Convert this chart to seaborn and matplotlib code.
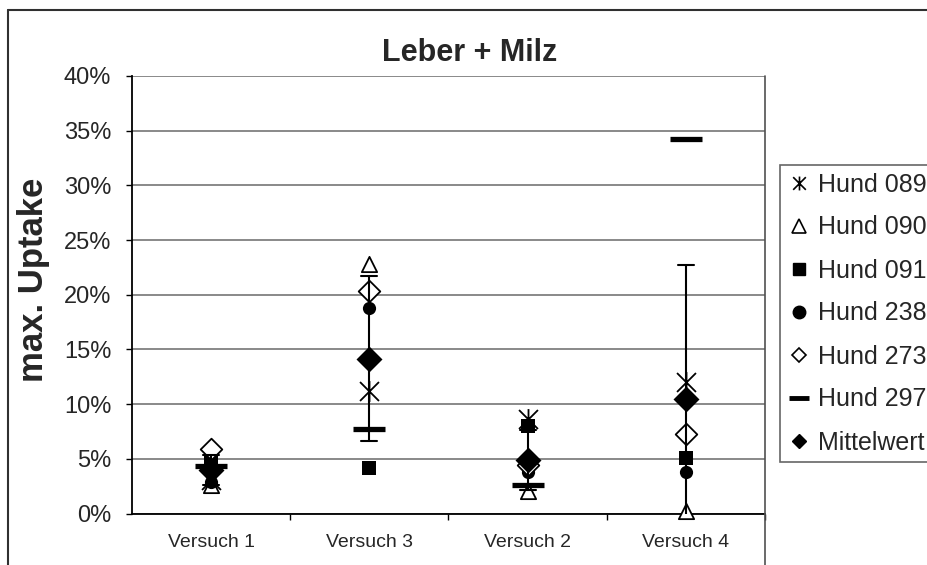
import numpy as np
import pandas as pd
import seaborn as sns
import matplotlib.pyplot as plt
from matplotlib.path import Path
from matplotlib.lines import Line2D

# max. uptake in percent
versuche = ['Versuch 1', 'Versuch 3', 'Versuch 2', 'Versuch 4']
hund_089 = [3.1, 11.2, 8.6, 12.0]
hund_090 = [2.6, 22.8, 2.1, 0.2]
hund_091 = [5.2, 4.2, 8.0, 5.1]
hund_238 = [2.9, 18.8, 3.8, 3.8]
hund_273 = [5.9, 20.3, 4.4, 7.3]
hund_297 = [4.3, 7.7, 2.6, 34.2]
yticks = [0, 5, 10, 15, 20, 25, 30, 35, 40]

sns.set_theme(style='white')
plt.rcParams['font.family'] = ['Liberation Sans', 'DejaVu Sans']

# excel style "star" marker: X with a vertical bar
star = Path([(-1, -1), (1, 1), (-1, 1), (1, -1), (0, -1.1), (0, 1.1)],
            [Path.MOVETO, Path.LINETO, Path.MOVETO, Path.LINETO, Path.MOVETO, Path.LINETO])

hunde = {
    'Hund 089': (hund_089, dict(marker=star, size=15, color='black', edgecolor='black', linewidth=1.3)),
    'Hund 090': (hund_090, dict(marker='^', size=11, color='white', edgecolor='black', linewidth=1.3)),
    'Hund 091': (hund_091, dict(marker='s', size=9.5, color='black', edgecolor='black', linewidth=0)),
    'Hund 238': (hund_238, dict(marker='o', size=9.5, color='black', edgecolor='black', linewidth=0)),
    'Hund 273': (hund_273, dict(marker='D', size=11, color='white', edgecolor='black', linewidth=1.3)),
    'Hund 297': (hund_297, dict(marker='_', size=23, color='black', linewidth=3.8)),
}

df = pd.DataFrame({'versuch': versuche})
for name, (vals, kw) in hunde.items():
    df[name] = vals
long = df.melt(id_vars='versuch', var_name='hund', value_name='uptake')

fig = plt.figure(figsize=(9.28, 5.65), dpi=100)
ax = fig.add_axes([132/928, 1 - 513.5/565, (765 - 132)/928, (513.5 - 76)/565])

for name, (vals, kw) in hunde.items():
    sns.stripplot(x=versuche, y=vals, order=versuche, jitter=False, ax=ax, zorder=3,
                  clip_on=False, **kw)

# Mittelwert with standard deviation
sns.pointplot(data=long, x='versuch', y='uptake', order=versuche, estimator='mean',
              errorbar='sd', color='black', markers='D', linestyle='none', markersize=11,
              capsize=0.1, err_kws={'linewidth': 1.5, 'zorder': 4}, zorder=5, ax=ax)

ax.set_xlim(-0.5, 3.5)
ax.set_ylim(0, 40)
ax.set_yticks(yticks)
ax.set_yticklabels([f'{t}%' for t in yticks])
ax.set_xticks(range(len(versuche)))
ax.set_xticklabels(versuche)
ax.set_xticks([0.5, 1.5, 2.5, 3.5], minor=True)
ax.tick_params(axis='x', which='major', length=0, pad=15, labelsize=14)
ax.tick_params(axis='x', which='minor', length=4, width=1, color='black', direction='out', bottom=True)
ax.tick_params(axis='y', length=4, width=1, color='black', direction='out', left=True, pad=11, labelsize=17)
ax.set_xlabel('')
ax.set_ylabel('max. Uptake', fontsize=25, fontweight='bold')
ax.yaxis.set_label_coords(-0.13, 0.535)
ax.set_title('Leber + Milz', fontsize=22, fontweight='bold', x=0.534, pad=11)

ax.grid(axis='y', color='#808080', linewidth=1.3)
ax.set_axisbelow(True)
for s in ['top', 'right']:
    ax.spines[s].set_visible(False)
for s in ['left', 'bottom']:
    ax.spines[s].set_color('black')
    ax.spines[s].set_linewidth(1.3)

# outer chart frame and right edge of plot area
fig.add_artist(Line2D([8/928, 8/928], [0, 1 - 10/565], transform=fig.transFigure, color='#303030', lw=1.5))
fig.add_artist(Line2D([8/928, 1], [1 - 10/565, 1 - 10/565], transform=fig.transFigure, color='#303030', lw=1.5))
fig.add_artist(Line2D([765/928, 765/928], [0, 1 - 76/565], transform=fig.transFigure, color='#505050', lw=1.2))

handles = [
    Line2D([], [], marker=star, ls='none', color='black', markersize=10, mew=1.2),
    Line2D([], [], marker='^', ls='none', mfc='white', mec='black', markersize=10, mew=1.2),
    Line2D([], [], marker='s', ls='none', color='black', markersize=9),
    Line2D([], [], marker='o', ls='none', color='black', markersize=9),
    Line2D([], [], marker='D', ls='none', mfc='white', mec='black', markersize=7, mew=1.2),
    Line2D([], [], marker='_', ls='none', color='black', markersize=14, mew=3.5),
    Line2D([], [], marker='D', ls='none', color='black', markersize=7),
]
labels = list(hunde.keys()) + ['Mittelwert']
leg = fig.legend(handles, labels, loc='upper left', bbox_to_anchor=(780/928, 1 - 165/565),
                 borderaxespad=0, frameon=True, fancybox=False, edgecolor='#404040',
                 fontsize=18, handlelength=0.9, handletextpad=0.3, borderpad=0.3,
                 labelspacing=0.76)
leg.get_frame().set_linewidth(1.2)

fig.savefig('out.png', dpi=100)
